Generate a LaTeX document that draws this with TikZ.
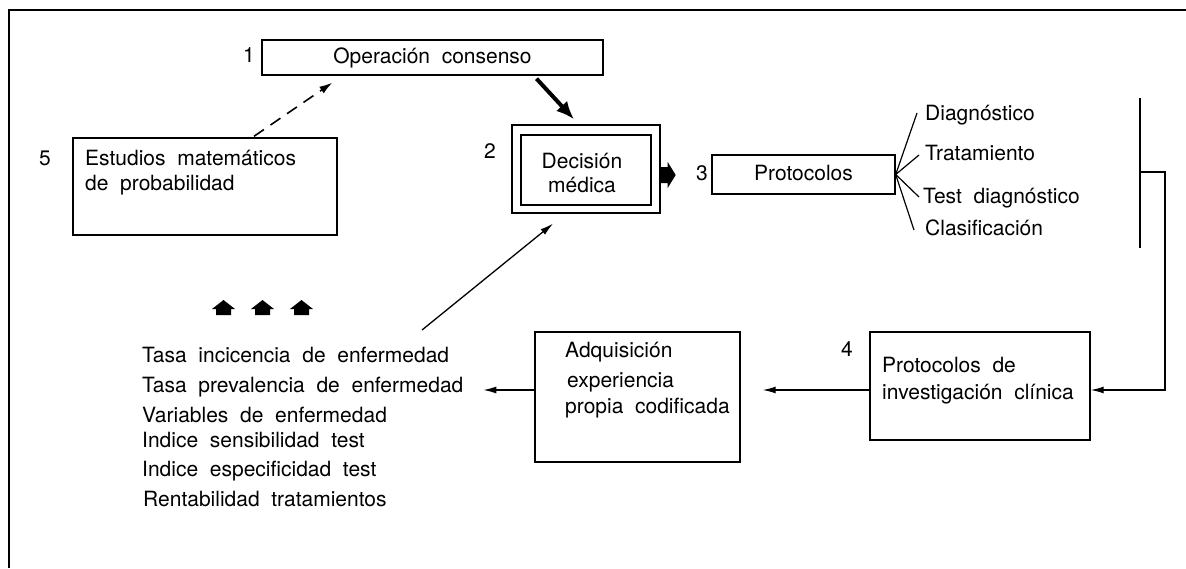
\documentclass[tikz,border=0pt]{standalone}
\usepackage{fontspec}
\setmainfont{TeX Gyre Heros}[WordSpace=2.0]
\usetikzlibrary{arrows.meta,calc}
\begin{document}
\begin{tikzpicture}[x=1pt,y=-1pt,
  box/.style={draw,line width=1.4pt,inner sep=0pt},
  txt/.style={font=\fontsize{21}{25}\selectfont,inner sep=0pt,text height=15pt,text depth=4pt},
  ltxt/.style={txt,anchor=west},
  arr/.style={line width=1.3pt,-{Latex[length=13pt,width=7pt]}},
  bigarr/.style={line width=4pt,-{Latex[length=18pt,width=15pt]}},
  dasharr/.style={line width=1.6pt,dash pattern=on 12pt off 8pt,-{Latex[length=13pt,width=8pt]}},
  fan/.style={line width=1.2pt},
  house/.style={fill=black}]
\useasboundingbox (0,0) rectangle (1186,568);
% frame
\draw[line width=1.8pt] (1186,10) -- (9,10) -- (9,568);

% boxes
\node[box,txt,minimum width=341pt,minimum height=35pt] (b1) at (432.5,57.5) {Operación consenso};
\node[box,minimum width=264pt,minimum height=97pt] (b5) at (205,186.5) {};
\node[box,minimum width=148pt,minimum height=88pt] (b2) at (586,169) {};
\node[box,minimum width=130pt,minimum height=70pt] (b2i) at (586,170) {};
\node[box,txt,minimum width=183pt,minimum height=39pt] (b3) at (803.5,174.5) {Protocolos};
\node[box,minimum width=220pt,minimum height=108pt] (b4) at (980,386) {};
\node[box,minimum width=205pt,minimum height=130pt] (adq) at (637.5,397) {};

% numbers
\node[txt] (n1) at (249,57) {1};
\node[txt] (n2) at (490,153) {2};
\node[txt] (n3) at (702,175) {3};
\node[txt] (n4) at (847,351) {4};
\node[txt] (n5) at (45,160) {5};

% box texts
\node[ltxt] (t5a) at (85,160) {Estudios matemáticos};
\node[ltxt] (t5b) at (85,185) {de probabilidad};
\node[txt] (t2a) at (582,163) {Decisión};
\node[txt] (t2b) at (582,187) {médica};
\node[ltxt] (ta1) at (565,352) {Adquisición};
\node[ltxt] (ta2) at (567,382) {experiencia};
\node[ltxt] (ta3) at (565,408) {propia codificada};
\node[ltxt] (t4a) at (882,367) {Protocolos de};
\node[ltxt] (t4b) at (882,394) {investigación clínica};

% fan labels
\node[ltxt] (dg) at (925,115) {Diagnóstico};
\node[ltxt] (tr) at (925,155) {Tratamiento};
\node[ltxt] (td) at (923,198) {Test diagnóstico};
\node[ltxt] (cl) at (925,230) {Clasificación};
\draw[fan] (b3.east) -- ($(dg.west)+(-8,-2)$);
\draw[fan] (b3.east) -- ($(tr.west)+(-6,0)$);
\draw[fan] (b3.east) -- ($(td.west)+(-4,-1)$);
\draw[fan] (b3.east) -- ($(cl.west)+(-11,0)$);

% list
\node[ltxt] (l1) at (142,357) {Tasa incicencia de enfermedad};
\node[ltxt] (l2) at (142,387) {Tasa prevalencia de enfermedad};
\node[ltxt] (l3) at (142,417) {Variables de enfermedad};
\node[ltxt] (l4) at (142,442) {Indice sensibilidad test};
\node[ltxt] (l5) at (142,471) {Indice especificidad test};
\node[ltxt] (l6) at (143,501) {Rentabilidad tratamientos};

% houses (upward block arrows)
\foreach \cx in {223.5,262.5,301.5}{
  \fill[house] (\cx-11.5,309) -- (\cx,300) -- (\cx+11.5,309) -- (\cx+7.5,309)
    -- (\cx+7.5,315) -- (\cx-7.5,315) -- (\cx-7.5,309) -- cycle;
}

% connectors
\draw[dasharr] ($(b5.north)+(49,-1)$) -- ($(b1.south west)+(71,7)$);
\draw[bigarr] ($(b1.south)+(104,3)$) -- ($(b2.north)+(-12,-5)$);
\fill ($(b2.east)+(0,-2)$) -- ++(7,0) -- ++(0,-5) -- ++(8,13) -- ++(-8,13) -- ++(0,-5) -- ++(-7,0) -- cycle;
\coordinate (lt) at (422,330);
\draw[arr] (lt) -- ($(b2.south)+(-33,10)$);
\draw[arr] ($(b4.west)+(0,4)$) -- ($(adq.east)+(22,-7)$);
\draw[arr] ($(adq.west)+(0,-7)$) -- ($(adq.west)+(-51,-7)$);
\coordinate (vt) at (1140,98);
\coordinate (vb) at (1140,248);
\draw[line width=1.8pt] (vt) -- (vb);
\draw[arr] ($(vt)+(0,74)$) -- ++(25,0) |- ($(b4.east)+(0,4)$);
\end{tikzpicture}
\end{document}
